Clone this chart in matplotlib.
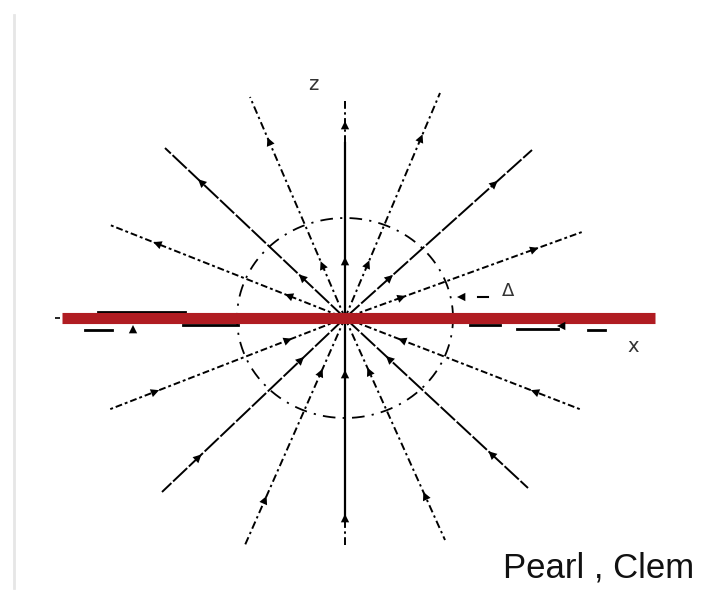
import numpy as np
import matplotlib.pyplot as plt

# ray end points, relative to the centre (x right, z up)
ray_x = [-95, 95, -180, 187, -235, 237, -237, 237, -183, 183, -100, 100]
ray_z = [221, 225, 170, 168, 93, 86, -92, -92, -174, -170, -227, -222]
ray_style = ['dashdot', 'dashdot', 'solid', 'solid', 'dotted', 'dotted',
             'dotted', 'dotted', 'solid', 'solid', 'dashdot', 'dashdot']

axis_top = 218
axis_bottom = -227

# circle radii
circle_rx = 108
circle_rz = 100

# red line span
red_x = [-283, 310]

# dashes along the x axis (start, end, z)
xdash_start = [-260, -162, -247, 125, 172, 243]
xdash_end = [-233, -107, -160, 155, 213, 260]
xdash_z = [-12, -7, 6, -7, -11, -12]

fig = plt.figure(figsize=(7.03, 5.95), dpi=100)
ax = fig.add_axes([0, 0, 1, 1])
ax.set_xlim(-345, 358)
ax.set_ylim(-277, 318)
ax.axis('off')

# faint border on the left
ax.plot([-331, -331], [-270, 303], color='#e6e6e6', lw=2)

styles = {'dashdot': (0, (4, 1.8, 1.2, 1.8)),
          'solid': (0, (10, 1.2)),
          'dotted': (0, (1.5, 1.5, 3.5, 1.5))}

def arrow(ax, x0, z0, x1, z1):
    ax.annotate('', xy=(x1, z1), xytext=(x0, z0),
                arrowprops=dict(arrowstyle='-|>', color='black', lw=0,
                                mutation_scale=15, shrinkA=0, shrinkB=0))

for x, z, s in zip(ray_x, ray_z, ray_style):
    ax.plot([0, x], [0, z], color='black', lw=1.4, linestyle=styles[s])
    ux, uz = x / np.hypot(x, z), z / np.hypot(x, z)
    for t in (0.24, 0.8):
        px, pz = x * t, z * t
        d = 1 if z > 0 else -1
        arrow(ax, px - d * ux * 7, pz - d * uz * 7, px + d * ux * 4, pz + d * uz * 4)

# vertical axis
ax.plot([0, 0], [-200, 175], color='black', lw=1.6)
ax.plot([0, 0], [175, axis_top], color='black', lw=1.4, linestyle=styles['dashdot'])
ax.plot([0, 0], [axis_bottom, -200], color='black', lw=1.4, linestyle=styles['dashdot'])
arrow(ax, 0, 183, 0, 197)
arrow(ax, 0, 50, 0, 61)
arrow(ax, 0, -63, 0, -52)
arrow(ax, 0, -210, 0, -196)

# dashed circle
th = np.linspace(0, 2 * np.pi, 400)
ax.plot(circle_rx * np.cos(th), circle_rz * np.sin(th), color='black', lw=1.3,
        linestyle=(0, (7, 4, 1.2, 4)))

# x axis dashes
for a, b, z in zip(xdash_start, xdash_end, xdash_z):
    ax.plot([a, b], [z, z], color='black', lw=2)
ax.plot([-290, 318], [0, 0], color='black', lw=1.2, linestyle=(0, (3, 40)))
arrow(ax, -212, -17, -212, -7)
arrow(ax, 224, -8, 212, -8)
arrow(ax, 128, 21, 112, 21)
ax.plot([133, 143], [21, 21], color='black', lw=1.5)

# red line
ax.plot(red_x, [0, 0], color='#b01c22', lw=8, solid_capstyle='butt')

ax.text(-32, 233, 'z', fontsize=14, ha='center', va='center', color='#333333')
ax.text(288, -29, 'x', fontsize=14, ha='center', va='center', color='#333333')
ax.text(163, 27, 'Δ', fontsize=13, ha='center', va='center', color='#333333')
ax.text(349, -260, 'Pearl , Clem', fontsize=25, ha='right', va='baseline',
        family='Liberation Sans', color='#111111')

fig.savefig('out.png', dpi=100)
